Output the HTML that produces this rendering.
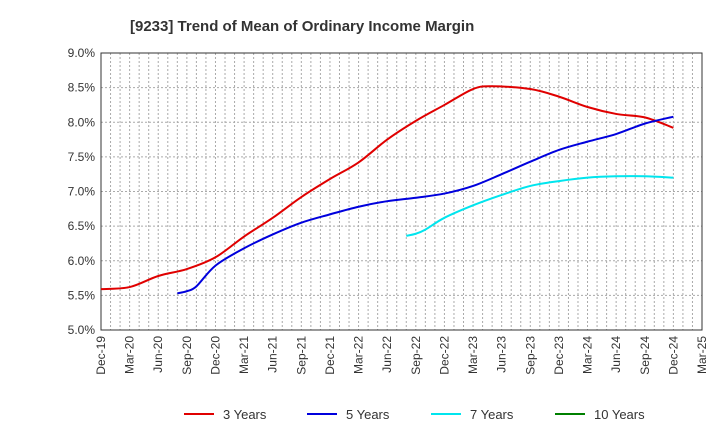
<!DOCTYPE html>
<html><head><meta charset="utf-8"><style>
body{margin:0;background:#fff;font-family:"Liberation Sans",sans-serif;}
</style></head><body>
<svg id="c" width="720" height="440" xmlns="http://www.w3.org/2000/svg" font-family="Liberation Sans, sans-serif"></svg>
<script>
const xLabels=["Dec-19","Mar-20","Jun-20","Sep-20","Dec-20","Mar-21","Jun-21","Sep-21","Dec-21","Mar-22","Jun-22","Sep-22","Dec-22","Mar-23","Jun-23","Sep-23","Dec-23","Mar-24","Jun-24","Sep-24","Dec-24","Mar-25"];
const yTicks=[5.0,5.5,6.0,6.5,7.0,7.5,8.0,8.5,9.0];
const m3=[0,3,6,9,12,15,18,21,24,27,30,33,36,39,41,45,48,51,54,57,60];
const s3=[5.59,5.62,5.78,5.88,6.05,6.35,6.62,6.92,7.18,7.42,7.75,8.02,8.25,8.48,8.52,8.48,8.37,8.22,8.12,8.07,7.92];
const m5=[8,9,10,12,15,18,21,24,27,30,33,36,39,42,45,48,51,54,57,60];
const s5=[5.53,5.56,5.63,5.93,6.18,6.38,6.55,6.67,6.78,6.86,6.91,6.97,7.08,7.25,7.43,7.6,7.72,7.83,7.98,8.08];
const m7=[32,33,34,36,39,42,45,48,51,54,57,60];
const s7=[6.36,6.39,6.45,6.62,6.8,6.95,7.08,7.15,7.2,7.22,7.22,7.2];
const m10=[];
const s10=[];
const names=["3 Years","5 Years","7 Years","10 Years"];
const colors=["#e00000","#0000dd","#00e5ee","#008000"];
const L=101,R=702,T=53,B=330;
const XM=m=>L+m*(R-L)/63, Y=v=>B-(v-5)*(B-T)/4;
const svg=document.getElementById('c');const NS="http://www.w3.org/2000/svg";
function mk(t,a,txt){const e=document.createElementNS(NS,t);for(const k in a)e.setAttribute(k,a[k]);if(txt!=null)e.textContent=txt;svg.appendChild(e);return e;}
let t=mk('text',{x:130,y:31,'font-size':15,'font-weight':'bold',fill:'#333'},'[9233]  Trend of Mean of Ordinary Income Margin');

for(let m=1;m<63;m++){const x=XM(m);let g=mk('line',{x1:x,x2:x,y1:T,y2:B,stroke:'#aaa','stroke-dasharray':'2,2'});}
yTicks.forEach(v=>{const y=Y(v);let g=mk('line',{x1:L,x2:R,y1:y,y2:y,stroke:'#aaa','stroke-dasharray':'2,2'});
let l=mk('text',{x:L-6,y:y+4,'font-size':12,'text-anchor':'end',fill:'#333'},v.toFixed(1)+'%');});
xLabels.forEach((s,i)=>{const x=XM(i*3);let l=mk('text',{transform:`translate(${x+4},${B+6}) rotate(-90)`,'font-size':12,'text-anchor':'end',fill:'#333'},s);});
let fr=mk('rect',{x:L,y:T,width:R-L,height:B-T,fill:'none',stroke:'#333'});
function path(ms,arr){const p=arr.map((v,i)=>[XM(ms[i]),Y(v)]);if(p.length<2)return'';let d=`M${p[0][0]},${p[0][1]}`;
for(let i=0;i<p.length-1;i++){const p0=p[i-1]||p[i],p1=p[i],p2=p[i+1],p3=p[i+2]||p2;
d+=` C${p1[0]+(p2[0]-p0[0])/6},${p1[1]+(p2[1]-p0[1])/6} ${p2[0]-(p3[0]-p1[0])/6},${p2[1]-(p3[1]-p1[1])/6} ${p2[0]},${p2[1]}`;}return d;}
[[m3,s3],[m5,s5],[m7,s7],[m10,s10]].forEach((s,k)=>{const d=path(s[0],s[1]);if(d){let e=mk('path',{d:d,fill:'none',stroke:colors[k],'stroke-width':2});}});
const lx=[184,307,431,555];
names.forEach((n,k)=>{let e=mk('line',{x1:lx[k],x2:lx[k]+30,y1:414,y2:414,stroke:colors[k],'stroke-width':2});
let tx=mk('text',{x:lx[k]+39,y:419,'font-size':13,fill:'#333'},n);});
</script>
</body></html>
